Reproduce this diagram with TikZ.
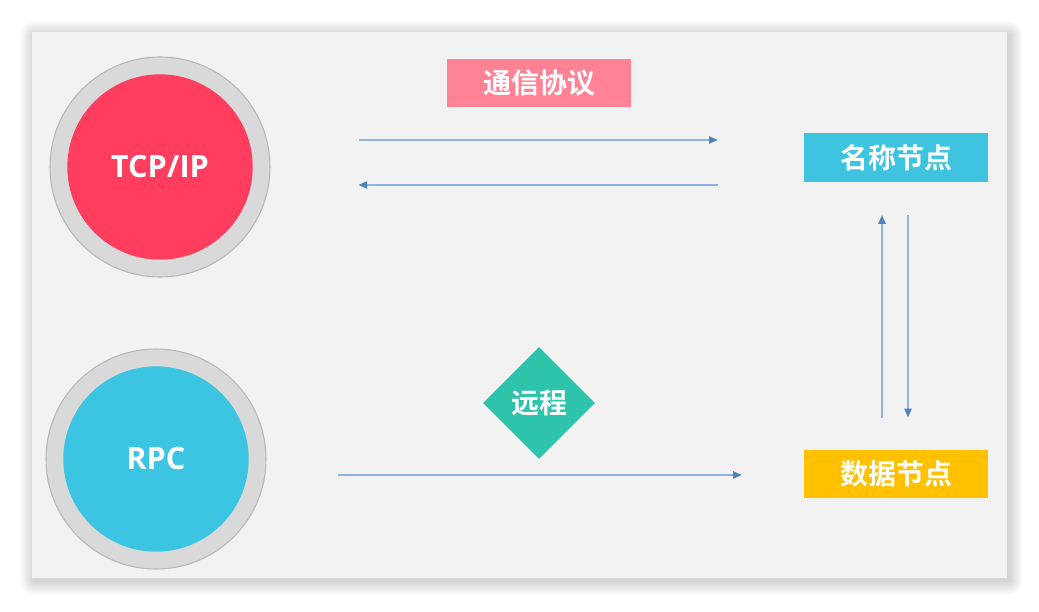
\documentclass[tikz,border=0pt]{standalone}
\usepackage{fontspec}
\setmainfont{Open Sans}
\newfontfamily\cjk{Noto Sans CJK SC}[BoldFont={Noto Sans CJK SC Bold}]
\usetikzlibrary{arrows.meta,shapes.geometric}
\definecolor{panelgray}{HTML}{F2F2F2}
\definecolor{ringgray}{HTML}{D9D9D9}
\definecolor{ringline}{HTML}{B8B8B8}
\definecolor{tcpred}{HTML}{FF3D5F}
\definecolor{rpcblue}{HTML}{3CC5E2}
\definecolor{protopink}{HTML}{FF8295}
\definecolor{nameblue}{HTML}{3EC4E0}
\definecolor{datayellow}{HTML}{FFC000}
\definecolor{remotegreen}{HTML}{2EC4AC}
\definecolor{flowline}{HTML}{8FB2DE}
\definecolor{flowhead}{HTML}{4F81BD}
\begin{document}
\begin{tikzpicture}[x=0.75pt,y=-0.75pt,
	ring/.style={circle,fill=ringgray,draw=ringline,line width=0.8pt,minimum size=165pt,inner sep=0pt},
	core/.style={circle,minimum size=139pt,inner sep=0pt,text=white,font=\fontsize{23}{26}\selectfont\bfseries},
	tag/.style={rectangle,minimum width=138pt,minimum height=36.5pt,inner sep=0pt,text=white,font=\cjk\fontsize{21}{24}\selectfont\bfseries},
	flow/.style={draw=flowline,line width=0.9pt,-{Triangle[length=6.5pt,width=5.5pt,color=flowhead]}}]
	\useasboundingbox (0,0) rectangle (1039,611);
	\fill[white] (0,0) rectangle (1039,611);
	% soft shadow of the panel
	\foreach \d in {1,...,14}{
		\fill[black,opacity=0.013,rounded corners=\d*0.75pt] (34-\d,35-\d) rectangle (1009+\d,581+\d);
	}
	\fill[panelgray] (32,32) rectangle (1007,578);
	% left circles
	\node[ring] (tcp) at (160,167) {};
	\node[core,fill=tcpred] (tcpcore) at (tcp) {TCP/IP};
	\node[ring] (rpc) at (156,459) {};
	\node[core,fill=rpcblue] (rpccore) at (rpc) {RPC};
	% labels and nodes
	\node[tag,fill=protopink] (proto) at (539,83) {通信协议};
	\node[tag,fill=nameblue] (name) at (896,157.5) {名称节点};
	\node[tag,fill=datayellow] (data) at (896,474) {数据节点};
	\node[diamond,fill=remotegreen,minimum width=84pt,minimum height=84pt,inner sep=0pt,text=white,font=\cjk\fontsize{21}{24}\selectfont\bfseries] (remote) at (539,403) {远程};
	% connectors
	\draw[flow] ([shift={(88,-27)}]tcp.east) -- ([shift={(-86,-17.5)}]name.west);
	\draw[flow] ([shift={(-86,27.5)}]name.west) -- ([shift={(88,18)}]tcp.east);
	\draw[flow] ([shift={(-14,-31)}]data.north) -- ([shift={(-14,33)}]name.south);
	\draw[flow] ([shift={(12,33)}]name.south) -- ([shift={(12,-32)}]data.north);
	\draw[flow] ([shift={(71,16)}]rpc.east) -- ([shift={(-62,1)}]data.west);
\end{tikzpicture}
\end{document}
